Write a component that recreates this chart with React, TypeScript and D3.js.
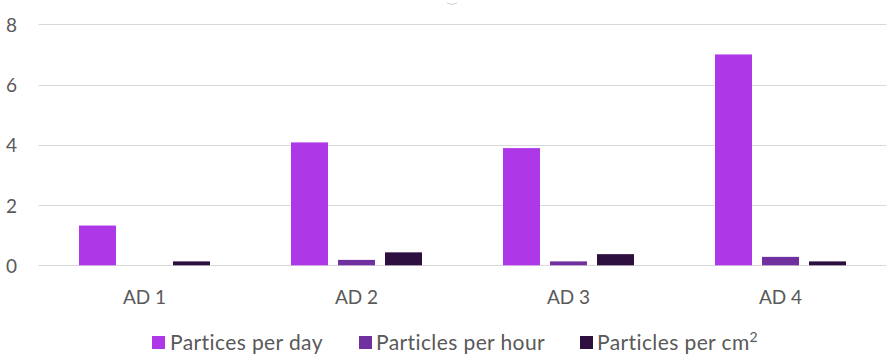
import React from "react";
import * as d3 from "d3";

// Sampling sites along the category axis
const categories = ["AD 1", "AD 2", "AD 3", "AD 4"];

// Measured particle deposition for each site
const particlesPerDay = [1.32, 4.08, 3.89, 7.0];
const particlesPerHour = [0, 0.18, 0.13, 0.28];
const particlesPerCm2 = [0.13, 0.43, 0.37, 0.13];

const seriesNames = ["Partices per day", "Particles per hour", "Particles per cm"];
const seriesColors = ["#AE38E8", "#7030A0", "#2D1040"];

const yTicks = [0, 2, 4, 6, 8];

const W = 887;
const H = 354;
const plotLeft = 38.5;
const plotRight = 886.5;
const plotTop = 24.3;
const plotBottom = 265.3;

const FONT = "Lato, 'Open Sans', sans-serif";
const TEXT = "#595959";

export default function App() {
  const series = [particlesPerDay, particlesPerHour, particlesPerCm2];

  const x = d3.scaleBand<string>().domain(categories).range([plotLeft, plotRight]).padding(0);
  const xInner = d3
    .scaleBand<number>()
    .domain([0, 1, 2])
    .range([0, x.bandwidth()])
    .paddingInner(0.2128)
    .paddingOuter(0.862);
  const y = d3.scaleLinear().domain([0, 8]).range([plotBottom, plotTop]);

  const legendItems = [
    { sq: 152, tx: 170 },
    { sq: 359, tx: 376 },
    { sq: 580, tx: 597 },
  ];

  return (
    <svg
      width={W}
      height={H}
      style={{ position: "absolute", left: 0, top: 0, background: "#fff" }}
      fontFamily={FONT}
    >
      {/* small title handle at top */}
      <path d="M447 3 Q452 6 457 3" fill="none" stroke="#d0d0d0" strokeWidth={1} />

      {/* gridlines */}
      {yTicks.map((t) => (
        <line
          key={t}
          x1={plotLeft}
          x2={plotRight}
          y1={Math.round(y(t)) + 0.5}
          y2={Math.round(y(t)) + 0.5}
          stroke="#D9D9D9"
          strokeWidth={1}
        />
      ))}

      {/* y tick labels */}
      {yTicks.map((t) => (
        <text
          key={t}
          x={17}
          y={y(t)}
          textAnchor="end"
          dominantBaseline="central"
          fontSize={19}
          fill={TEXT}
        >
          {t}
        </text>
      ))}

      {/* bars */}
      {categories.map((c, ci) => (
        <g key={c} transform={`translate(${x(c)},0)`}>
          {series.map((vals, si) => {
            const v = vals[ci];
            const h = plotBottom - y(v);
            if (h <= 0) return null;
            return (
              <rect
                key={si}
                x={xInner(si)}
                y={y(v)}
                width={xInner.bandwidth()}
                height={h}
                fill={seriesColors[si]}
              />
            );
          })}
        </g>
      ))}

      {/* category labels */}
      {categories.map((c) => (
        <text
          key={c}
          x={(x(c) as number) + x.bandwidth() / 2}
          y={304}
          textAnchor="middle"
          fontSize={19}
          fill={TEXT}
        >
          {c}
        </text>
      ))}

      {/* legend */}
      {legendItems.map((it, i) => (
        <g key={i}>
          <rect x={it.sq} y={336} width={13} height={13} fill={seriesColors[i]} />
          <text x={it.tx} y={349.5} fontSize={21} letterSpacing={0.4} fill={TEXT}>
            {seriesNames[i]}
            {i === 2 ? (
              <tspan fontSize={14} dy={-8}>
                2
              </tspan>
            ) : null}
          </text>
        </g>
      ))}
    </svg>
  );
}
